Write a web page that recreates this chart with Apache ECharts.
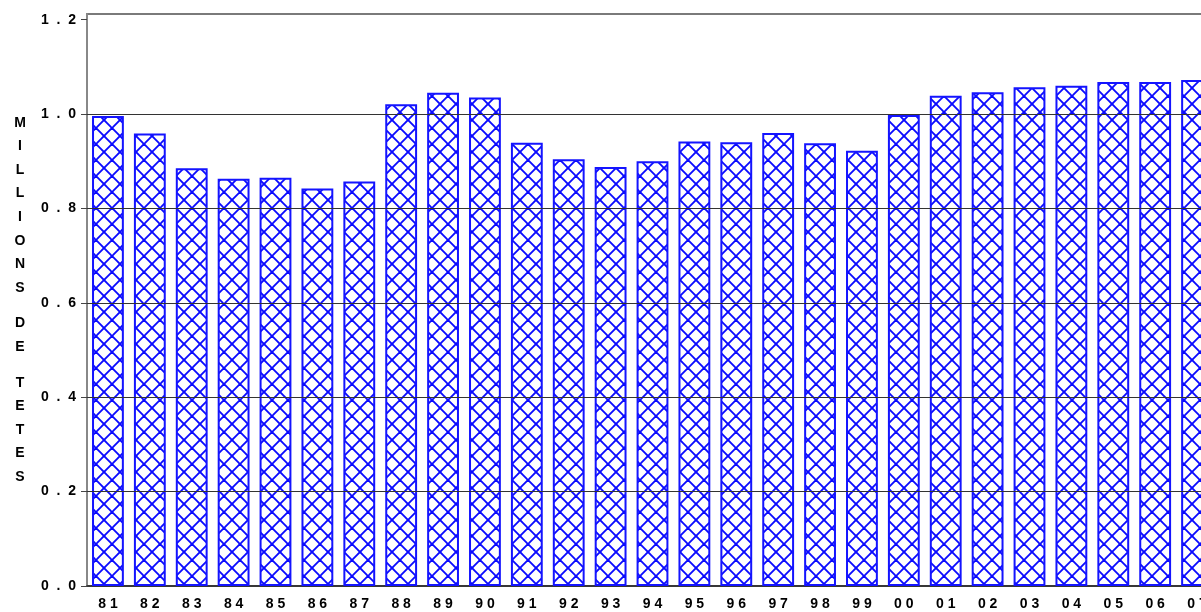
<!DOCTYPE html>
<html>
<head>
<meta charset="utf-8">
<script src="https://cdn.jsdelivr.net/npm/echarts@6/dist/echarts.min.js"></script>
<style>
  html, body { margin: 0; padding: 0; background: #fff; }
  #chart { width: 1201px; height: 612px; }
</style>
</head>
<body>
<div id="chart"></div>
<script>
// values
const years = ['81', '82', '83', '84', '85', '86', '87', '88', '89', '90', '91', '92', '93', '94',
  '95', '96', '97', '98', '99', '00', '01', '02', '03', '04', '05', '06', '07']
const headcount = [0.996, 0.959, 0.885, 0.863, 0.865, 0.842, 0.857, 1.021, 1.045, 1.035, 0.939, 0.904,
  0.888, 0.900, 0.942, 0.940, 0.960, 0.938, 0.922, 0.998, 1.039, 1.046, 1.057, 1.060, 1.068, 1.068, 1.072]
const yTicks = [0, 0.2, 0.4, 0.6, 0.8, 1.0, 1.2]
const yMinorTicks = [0.1, 0.3, 0.5, 0.7, 0.9, 1.1]
const gridValues = [0.2, 0.4, 0.6, 0.8, 1.0]
const axisTitle = 'MILLIONS DE TETES'

const FONT = '"Liberation Sans", Arial, sans-serif'
const Y_MAX = 1.212

// blue cross-hatch fill
function hatch() {
  const c = document.createElement('canvas')
  c.width = 16
  c.height = 16
  const g = c.getContext('2d')
  g.fillStyle = '#fff'
  g.fillRect(0, 0, 16, 16)
  g.strokeStyle = '#0a0aff'
  g.lineWidth = 1.9
  for (const o of [-16, 0, 16]) {
    g.beginPath(); g.moveTo(o - 2, -2); g.lineTo(o + 18, 18); g.stroke()
    g.beginPath(); g.moveTo(o + 18, -2); g.lineTo(o - 2, 18); g.stroke()
  }
  return c
}

const spaced = (s, sep) => String(s).split('').join(sep)

const titleText = axisTitle.split('').map(ch => ch === ' ' ? '{sp| }' : ch).join('\n')

const chart = echarts.init(document.getElementById('chart'))

chart.setOption({
  animation: false,
  backgroundColor: '#fff',
  grid: {
    show: true,
    borderColor: '#7a7a7a',
    borderWidth: 2,
    left: 87,
    right: -17,
    top: 14,
    bottom: 26,
    containLabel: false,
    outerBoundsMode: 'none'
  },
  xAxis: {
    type: 'category',
    data: years,
    axisLine: { lineStyle: { color: '#222', width: 1.5 } },
    axisTick: { show: false },
    axisLabel: {
      interval: 0,
      margin: 11,
      color: '#000',
      fontFamily: FONT,
      fontWeight: 'bold',
      fontSize: 14,
      formatter: v => spaced(v, ' ')
    },
    splitLine: { show: false }
  },
  yAxis: [
    {
      type: 'value',
      min: 0,
      max: Y_MAX,
      axisLine: { show: true, lineStyle: { color: '#888', width: 2 } },
      axisTick: {
        show: true,
        customValues: yTicks,
        length: 6,
        lineStyle: { color: '#444', width: 1 }
      },
      axisLabel: {
        customValues: yTicks,
        margin: 11,
        color: '#000',
        fontFamily: FONT,
        fontWeight: 'bold',
        fontSize: 14,
        formatter: v => spaced(v.toFixed(1), '  ')
      },
      splitLine: { show: false },
      name: titleText,
      nameLocation: 'middle',
      nameRotate: 0,
      nameGap: 67,
      nameTextStyle: {
        align: 'center',
        verticalAlign: 'middle',
        color: '#000',
        fontFamily: FONT,
        fontWeight: 'bold',
        fontSize: 14,
        lineHeight: 23.6,
        rich: {
          sp: { lineHeight: 12, fontSize: 14 }
        }
      }
    },
    {
      type: 'value',
      min: 0,
      max: Y_MAX,
      axisLine: { show: false },
      axisTick: {
        show: true,
        customValues: yMinorTicks,
        length: 3,
        lineStyle: { color: '#444', width: 1 }
      },
      axisLabel: { show: false },
      splitLine: { show: false }
    }
  ],
  series: [
    {
      type: 'bar',
      data: headcount,
      barWidth: '76%',
      itemStyle: {
        color: { image: hatch(), repeat: 'repeat' },
        borderColor: '#1414ff',
        borderWidth: 2
      },
      markLine: {
        silent: true,
        symbol: ['none', 'none'],
        label: { show: false },
        lineStyle: { color: '#333', width: 1.2, type: 'solid' },
        data: gridValues.map(v => ({ yAxis: v }))
      }
    }
  ]
})
</script>
</body>
</html>
